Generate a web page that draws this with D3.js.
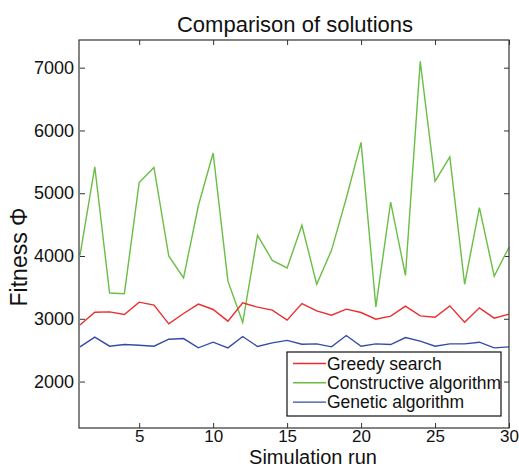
<!DOCTYPE html>
<html>
<head>
<meta charset="utf-8">
<script src="https://cdn.jsdelivr.net/npm/d3@7"></script>
<style>
  html, body { margin: 0; padding: 0; background: #fff; }
  svg { display: block; font-family: "Liberation Sans", Arial, sans-serif; }
</style>
</head>
<body>
<svg id="chart" width="519" height="468"></svg>
<script>
const runs = d3.range(1, 31);
const greedy = [2900, 3105, 3110, 3068, 3265, 3217, 2919, 3084, 3233, 3148,
                2962, 3254, 3185, 3137, 2978, 3243, 3126, 3057, 3153, 3100,
                2994, 3041, 3201, 3046, 3025, 3206, 2946, 3174, 3010, 3073];
const constructive = [4010, 5420, 3410, 3400, 5170, 5410, 4000, 3650, 4800, 5640,
                      3600, 2940, 4330, 3930, 3810, 4490, 3550, 4090, 4920, 5810,
                      3190, 4860, 3690, 7100, 5190, 5580, 3550, 4770, 3680, 4140];
const genetic = [2553, 2707, 2563, 2590, 2579, 2563, 2675, 2685, 2537, 2627,
                 2537, 2717, 2558, 2616, 2656, 2595, 2600, 2553, 2733, 2563,
                 2600, 2590, 2701, 2643, 2563, 2600, 2600, 2627, 2537, 2553];
const seriesNames = ["Greedy search", "Constructive algorithm", "Genetic algorithm"];
const seriesColors = ["#ec2d2e", "#6abe45", "#344ca5"];
const xTicks = [5, 10, 15, 20, 25, 30];
const yTicks = [2000, 3000, 4000, 5000, 6000, 7000];
const titleText = "Comparison of solutions";
const xLabel = "Simulation run";
const yLabel = "Fitness \u03A6";

const svg = d3.select("#chart");
const L = 80, R = 509, T = 40, B = 428;
const x = d3.scaleLinear().domain([1, 30]).range([L, R]);
const y = d3.scaleLinear().domain([1260, 7441]).range([B, T]);

const axisColor = "#333";
const g = svg.append("g");
const tickLen = 5;
const xb = g.append("g").attr("transform", `translate(0,${B})`)
  .call(d3.axisBottom(x).tickValues(xTicks).tickSize(-tickLen).tickFormat(d3.format("d")));
const xt = g.append("g").attr("transform", `translate(0,${T})`)
  .call(d3.axisTop(x).tickValues(xTicks).tickSize(-tickLen).tickFormat(""));
const yl = g.append("g").attr("transform", `translate(${L},0)`)
  .call(d3.axisLeft(y).tickValues(yTicks).tickSize(-tickLen).tickPadding(6).tickFormat(d3.format("d")));
const yr = g.append("g").attr("transform", `translate(${R},0)`)
  .call(d3.axisRight(y).tickValues(yTicks).tickSize(-tickLen).tickFormat(""));
[xb, xt, yl, yr].forEach(a => {
  a.select(".domain").remove();
  a.selectAll("line").attr("stroke", axisColor).attr("stroke-width", 1);
  a.selectAll("text").attr("fill", "#111").style("font-size", "18px")
    .style("font-family", "'Liberation Sans', Arial, sans-serif");
});
xb.selectAll("text").attr("y", 14).attr("dy", "0").style("font-size", "17px");

const lineGen = d3.line().x((d, i) => x(runs[i])).y(d => y(d));
const data = [greedy, constructive, genetic];
const plot = svg.append("g");
[1, 0, 2].forEach(k => {
  plot.append("path").datum(data[k])
    .attr("d", lineGen).attr("fill", "none")
    .attr("stroke", seriesColors[k]).attr("stroke-width", 1.4)
    .attr("stroke-linejoin", "miter");
});
svg.append("rect").attr("x", L - 1).attr("y", T).attr("width", R - L + 1).attr("height", B - T)
  .attr("fill", "none").attr("stroke", axisColor).attr("stroke-width", 1.2);

// legend
const lg = svg.append("g");
const lx = 287, ly = 352, lw = 214, lh = 64;
lg.append("rect").attr("x", lx).attr("y", ly).attr("width", lw).attr("height", lh)
  .attr("fill", "#fff").attr("stroke", "#111").attr("stroke-width", 1.2);
seriesNames.forEach((name, i) => {
  const yy = ly + 11.5 + i * 19.3;
  lg.append("line").attr("x1", lx + 6).attr("x2", lx + 39).attr("y1", yy).attr("y2", yy)
    .attr("stroke", seriesColors[i]).attr("stroke-width", 1.4);
  lg.append("text").attr("x", lx + 40).attr("y", yy).attr("dy", "0.35em")
    .style("font-size", "17.5px").attr("fill", "#111").text(name);
});

// title and labels
svg.append("text").attr("x", 295).attr("y", 32).attr("text-anchor", "middle")
  .style("font-size", "22px").attr("fill", "#111").text(titleText);
svg.append("text").attr("x", 313).attr("y", 463.5).attr("text-anchor", "middle")
  .style("font-size", "20px").attr("fill", "#111").text(xLabel);
svg.append("text").attr("transform", "translate(27,257) rotate(-90)").attr("text-anchor", "middle")
  .style("font-size", "23px").attr("fill", "#111").text(yLabel);
</script>
</body>
</html>
